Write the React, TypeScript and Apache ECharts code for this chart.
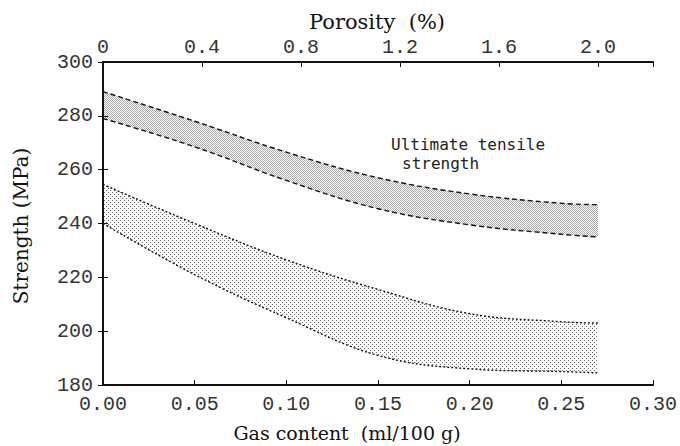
import React, { useEffect, useRef } from "react";
import * as echarts from "echarts";

// Gas content (ml/100 g) sample points
const gasContent = [0, 0.05, 0.1, 0.15, 0.2, 0.25, 0.27];
// Ultimate tensile strength band (MPa)
const utsUpper = [289, 278, 266.5, 257, 251, 247.5, 247];
const utsLower = [279, 268.5, 256, 245.5, 239.5, 236, 235];
// 0.1% offset yield strength band (MPa)
const ysUpper = [254.5, 240, 226.5, 215.5, 206.5, 203.5, 203];
const ysLower = [240, 221, 205, 191, 186, 185, 184.5];

const gasTicks = [0, 0.05, 0.1, 0.15, 0.2, 0.25, 0.3];
const porosityTicks = [0, 0.4, 0.8, 1.2, 1.6, 2.0];
const porosityMax = 2.222; // porosity equivalent of 0.30 ml/100 g
const strengthMin = 180;
const strengthMax = 300;

function makePattern(step: number, color: string, checker: boolean) {
  const c = document.createElement("canvas");
  c.width = step;
  c.height = step;
  const ctx = c.getContext("2d")!;
  ctx.fillStyle = "#ffffff";
  ctx.fillRect(0, 0, step, step);
  ctx.fillStyle = color;
  ctx.fillRect(0, 0, 1, 1);
  if (checker) ctx.fillRect(Math.floor(step / 2), Math.floor(step / 2), 1, 1);
  return c.toDataURL("image/png");
}

const tickFont = "'Liberation Mono', 'DejaVu Sans Mono', monospace";
const titleFont = "'DejaVu Serif', 'Liberation Serif', serif";
const noteFont = "'DejaVu Sans Mono', monospace";

export default function App() {
  const ref = useRef<HTMLDivElement>(null);
  useEffect(() => {
    if (!ref.current) return;
    const chart = echarts.init(ref.current, undefined, { renderer: "svg" });
    const utsPat = makePattern(2, "#a8a8a8", true);
    const ysPat = makePattern(4, "#666666", true);
    const pairs = (ys: number[]) => gasContent.map((x, i) => [x, ys[i]]);
    const axisLine = { show: true, lineStyle: { color: "#111", width: 2 } };
    const labelStyle = { fontFamily: tickFont, fontSize: 20, color: "#333" };
    const tick = { show: true, inside: true, length: 5, lineStyle: { color: "#111" } };
    const band = (name: string, ys: number[], dash: number[], fill: any, z: number) => ({
      type: "line",
      name,
      xAxisIndex: 0,
      yAxisIndex: 0,
      data: pairs(ys),
      smooth: 0.4,
      showSymbol: false,
      lineStyle: { color: "#111", width: 1.4, type: dash },
      areaStyle: { color: fill, opacity: 1, origin: "start" },
      z,
    });
    chart.setOption({
      animation: false,
      backgroundColor: "#fff",
      grid: { left: 103, right: 25, top: 62, bottom: 61, containLabel: false },
      xAxis: [
        {
          type: "value",
          position: "bottom",
          min: 0,
          max: 0.3,
          interval: 0.05,
          z: 50,
          axisLine,
          axisTick: tick,
          splitLine: { show: false },
          axisLabel: {
            ...labelStyle,
            margin: 9,
            formatter: (v: number) => (gasTicks.some((t) => Math.abs(t - v) < 1e-6) ? v.toFixed(2) : ""),
          },
        },
        {
          type: "value",
          position: "top",
          min: 0,
          max: porosityMax,
          interval: 0.4,
          z: 50,
          axisLine,
          axisTick: tick,
          splitLine: { show: false },
          axisLabel: {
            ...labelStyle,
            margin: 5,
            formatter: (v: number) => {
              const t = porosityTicks.find((p) => Math.abs(p - v) < 1e-6);
              if (t === undefined) return "";
              return t === 0 ? "0" : t.toFixed(1);
            },
          },
        },
      ],
      yAxis: [
        {
          type: "value",
          position: "left",
          min: strengthMin,
          max: strengthMax,
          interval: 20,
          z: 50,
          axisLine,
          axisTick: tick,
          splitLine: { show: false },
          axisLabel: { ...labelStyle, margin: 10, padding: [8, 0, 0, 0] },
        },
        {
          type: "value",
          position: "right",
          min: strengthMin,
          max: strengthMax,
          interval: 20,
          z: 50,
          axisLine,
          axisTick: tick,
          splitLine: { show: false },
          axisLabel: { show: false },
        },
      ],
      series: [
        band("Ultimate tensile strength (upper)", utsUpper, [5, 3], { image: utsPat, repeat: "repeat" }, 2),
        band("Ultimate tensile strength (lower)", utsLower, [5, 3], "#ffffff", 3),
        band("0.1% offset yield strength (upper)", ysUpper, [2, 2], { image: ysPat, repeat: "repeat" }, 4),
        band("0.1% offset yield strength (lower)", ysLower, [2, 2], "#ffffff", 5),
      ],
      graphic: [
        {
          type: "group",
          z: 100,
          children: [
            {
              type: "text",
              x: 377,
              y: 22,
              style: { text: "Porosity  (%)", font: `21px ${titleFont}`, fill: "#111", align: "center", verticalAlign: "middle" },
            },
            {
              type: "text",
              x: 347,
              y: 433,
              style: { text: "Gas content  (ml/100 g)", font: `19px ${titleFont}`, fill: "#111", align: "center", verticalAlign: "middle" },
            },
            {
              type: "text",
              x: 21,
              y: 226,
              rotation: Math.PI / 2,
              style: { text: "Strength (MPa)", font: `20px ${titleFont}`, fill: "#111", align: "center", verticalAlign: "middle" },
            },
            {
              type: "text",
              x: 391,
              y: 144,
              style: { text: "Ultimate tensile", font: `16px ${noteFont}`, fill: "#222", align: "left", verticalAlign: "middle" },
            },
            {
              type: "text",
              x: 402,
              y: 163,
              style: { text: "strength", font: `16px ${noteFont}`, fill: "#222", align: "left", verticalAlign: "middle" },
            },
            {
              type: "text",
              x: 412,
              y: 271,
              style: { text: "0.1% offset yield", font: `16px ${noteFont}`, fill: "#222", align: "left", verticalAlign: "middle" },
            },
            {
              type: "text",
              x: 424,
              y: 291,
              style: { text: "strength", font: `16px ${noteFont}`, fill: "#222", align: "left", verticalAlign: "middle" },
            },
          ],
        },
      ],
    });
    return () => chart.dispose();
  }, []);
  return (
    <div
      ref={ref}
      style={{ position: "fixed", left: 0, top: 0, width: 680, height: 446, background: "#fff" }}
    />
  );
}
